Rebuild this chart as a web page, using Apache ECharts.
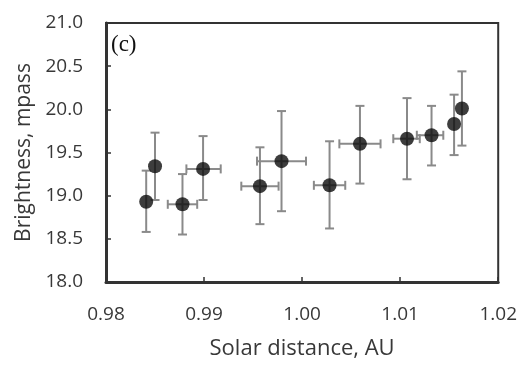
<!DOCTYPE html>
<html><head><meta charset="utf-8">
<script src="https://cdn.jsdelivr.net/npm/echarts@6/dist/echarts.min.js"></script>
<style>html,body{margin:0;padding:0;background:#fff}#c{width:520px;height:365px}</style>
</head><body><div id="c"></div>
<script>
// Solar distance (AU)
var distance = [0.9841, 0.9850, 0.9878, 0.9899, 0.9957, 0.9979, 1.0028, 1.0059, 1.0107, 1.0132, 1.0155, 1.0163];
// Brightness (mpass)
var brightness = [18.93, 19.34, 18.90, 19.31, 19.11, 19.40, 19.12, 19.60, 19.66, 19.70, 19.83, 20.01];
// vertical error bar bounds
var bLow  = [18.58, 18.95, 18.55, 18.95, 18.67, 18.82, 18.62, 19.14, 19.19, 19.35, 19.47, 19.58];
var bHigh = [19.29, 19.73, 19.25, 19.69, 19.56, 19.98, 19.63, 20.04, 20.13, 20.04, 20.17, 20.44];
// horizontal error bar bounds
var dLow  = [0.9841, 0.9850, 0.9863, 0.9882, 0.9938, 0.9954, 1.0012, 1.0038, 1.0093, 1.0117, 1.0155, 1.0163];
var dHigh = [0.9841, 0.9850, 0.9893, 0.9917, 0.9976, 1.0004, 1.0044, 1.0080, 1.0120, 1.0144, 1.0155, 1.0163];
var yTicks = ['18.0','18.5','19.0','19.5','20.0','20.5','21.0'];
var xTicks = ['0.98','0.99','1.00','1.01','1.02'];

var errData = distance.map(function(d,i){return [d, brightness[i], bLow[i], bHigh[i], dLow[i], dHigh[i]];});
var chart = echarts.init(document.getElementById('c'));
var txt = '#383838';
var font = 'Open Sans';
chart.setOption({
  animation:false,
  title:{text:'(c)', left:111, top:33, padding:0, textStyle:{fontFamily:'Liberation Serif', fontSize:23, fontWeight:'normal', color:'#111'}},
  grid:{left:106, right:21, top:23, bottom:79, show:true, borderColor:'#333', borderWidth:2},
  xAxis:{type:'value', min:0.98, max:1.02, interval:0.01,
    name:'Solar distance, AU', nameLocation:'middle', nameGap:56,
    nameTextStyle:{fontFamily:font, fontSize:22, color:txt},
    axisLine:{show:true, onZero:false, lineStyle:{color:'#333', width:3}},
    axisTick:{show:true, inside:true, length:5, lineStyle:{color:'#333', width:1.5}},
    axisLabel:{fontFamily:font, fontSize:19, color:txt, margin:23,
      formatter:function(v){var i=Math.round((v-0.98)/0.01);return xTicks[i]!==undefined?xTicks[i]:'';}},
    splitLine:{show:false}},
  yAxis:{type:'value', min:18, max:21, interval:0.5,
    name:'Brightness, mpass', nameLocation:'middle', nameGap:71,
    nameTextStyle:{fontFamily:font, fontSize:21, color:txt},
    axisLine:{show:true, onZero:false, lineStyle:{color:'#333', width:3}},
    axisTick:{show:true, inside:true, length:5, lineStyle:{color:'#333', width:1.5}},
    axisLabel:{fontFamily:font, fontSize:19, color:txt, margin:23,
      formatter:function(v){var i=Math.round((v-18)/0.5);return yTicks[i]!==undefined?yTicks[i]:'';}},
    splitLine:{show:false}},
  series:[
    {type:'custom', data:errData, z:2,
      renderItem:function(params, api){
        var c = api.coord([api.value(0), api.value(1)]);
        var top = api.coord([api.value(0), api.value(3)]);
        var bot = api.coord([api.value(0), api.value(2)]);
        var lft = api.coord([api.value(4), api.value(1)]);
        var rgt = api.coord([api.value(5), api.value(1)]);
        var st = {stroke:'#8a8a8a', lineWidth:2, fill:null};
        var cw = 4.5;
        var ch = [
          {type:'line', shape:{x1:c[0], y1:top[1], x2:c[0], y2:bot[1]}, style:st},
          {type:'line', shape:{x1:c[0]-cw, y1:top[1], x2:c[0]+cw, y2:top[1]}, style:st},
          {type:'line', shape:{x1:c[0]-cw, y1:bot[1], x2:c[0]+cw, y2:bot[1]}, style:st}
        ];
        if (rgt[0]-lft[0] > 1) {
          ch.push({type:'line', shape:{x1:lft[0], y1:c[1], x2:rgt[0], y2:c[1]}, style:st});
          ch.push({type:'line', shape:{x1:lft[0], y1:c[1]-cw, x2:lft[0], y2:c[1]+cw}, style:st});
          ch.push({type:'line', shape:{x1:rgt[0], y1:c[1]-cw, x2:rgt[0], y2:c[1]+cw}, style:st});
        }
        return {type:'group', children:ch};
      }},
    {type:'scatter', z:3, symbol:'circle', symbolSize:14,
      itemStyle:{color:'#0d0d0d'},
      data:distance.map(function(d,i){return [d, brightness[i]];})}
  ]
});
</script></body></html>
